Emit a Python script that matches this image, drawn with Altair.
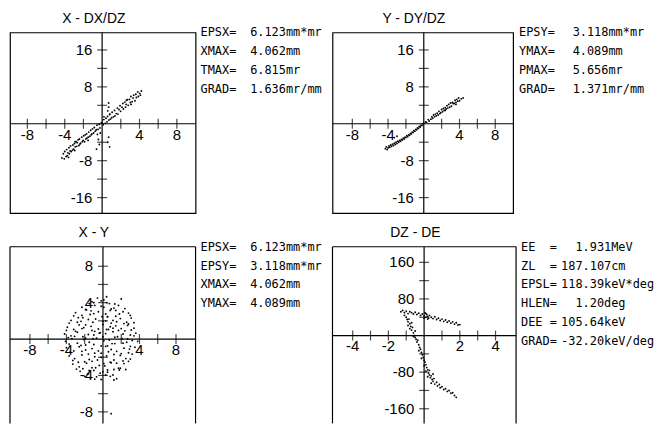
import altair as alt
import pandas as pd

# ---------------- data ----------------
# Panel 1: X (mm) vs DX/DZ (mr)
P1_X = [-4.3, -4.15, -4.05, -4.0, -3.85, -3.8, -3.72, -3.66, -3.55, -3.5, -3.42, -3.38, -3.3, -3.17,
        -3.12, -3.05, -2.96, -2.93, -2.88, -2.79, -2.71, -2.66, -2.57, -2.48, -2.43, -2.37, -2.31, -2.18,
        -2.12, -2.03, -1.97, -1.88, -1.81, -1.73, -1.66, -1.62, -1.49, -1.43, -1.31, -1.22, -1.17, -1.09,
        -1.02, -0.91, -0.84, -0.73, -0.62, -0.55, -0.44, -0.31, -0.24, -0.08,
        0.0, 0.12, 0.18, 0.33, 0.41, 0.52, 0.58, 0.71, 0.83, 0.88, 1.02, 1.07, 1.21, 1.33, 1.38, 1.52,
        1.63, 1.69, 1.81, 1.92, 1.98, 2.13, 2.22, 2.28, 2.43, 2.51, 2.58, 2.72, 2.79, 2.93, 3.02, 3.08,
        3.22, 3.31, 3.38, 3.52, 3.61, 3.67, 3.81, 3.88, 4.02, 4.2, 4.1, 2.6, 3.1,
        0.7, 0.7, 0.6, 0.8, -0.5, -0.4, -0.3, -0.6, 0.7, 0.6, 0.8, 0.2, -0.2, -1.5, -2.9, -3.6]
P1_Y = [-7.4, -6.5, -7.6, -6.0, -7.1, -5.6, -6.9, -6.3, -5.2, -6.5, -5.9, -4.8, -6.0, -5.7, -4.6, -5.5,
        -4.3, -5.8, -5.0, -3.9, -4.9, -4.1, -3.5, -4.7, -3.3, -4.4, -4.2, -2.9, -3.9, -3.6, -2.6, -3.9,
        -2.4, -3.3, -2.2, -3.1, -2.9, -1.8, -2.7, -1.4, -2.4, -2.2, -1.1, -2.0, -0.8, -1.6, -1.3, -0.3,
        -1.2, -0.1, -0.9, 0.2,
        0.3, -0.2, 0.9, 0.1, 1.2, 0.4, 1.6, 0.8, 2.1, 1.0, 1.3, 2.5, 1.5, 2.9, 1.7, 2.2, 3.4, 2.1, 3.1,
        3.9, 2.7, 3.6, 4.4, 3.2, 4.7, 3.6, 4.2, 5.2, 4.0, 5.3, 4.6, 5.9, 4.8, 5.6, 6.2, 5.0, 6.4, 5.7,
        6.9, 5.9, 6.6, 7.1, 6.2, 5.1, 4.2,
        4.5, 3.6, 2.8, 2.0, -2.3, -3.4, -4.5, -5.5, -2.9, -4.0, -5.0, 1.5, -2.0, -3.6, -3.9, -7.3]

# Panel 2: Y (mm) vs DY/DZ (mr)
P2_X = [-4.3, -4.2, -4.1, -4.0, -3.9, -3.8, -3.7, -3.6, -3.5, -3.4, -3.3, -3.2, -3.1, -3.0, -2.9, -2.8,
        -2.7, -2.6, -2.5, -2.4, -2.3, -2.2, -2.1, -2.0, -1.9, -1.8, -1.7, -1.6, -1.5, -1.4, -1.3, -1.2,
        -1.1, -1.0, -0.9, -0.8, -0.7, -0.6, -0.5, -0.4, -0.3, -0.2, -0.1, -3.0, -3.3,
        0.0, 0.2, 0.3, 0.5, 0.6, 0.8, 0.9, 1.0, 1.2, 1.3, 1.4, 1.5, 1.6, 1.7, 1.8, 1.9, 2.0, 2.1, 2.2,
        2.3, 2.4, 2.5, 2.6, 2.7, 2.8, 2.9, 3.0, 3.1, 3.2, 3.3, 3.4, 3.5, 3.6, 3.7, 3.8, 3.9, 4.0, 4.2,
        4.4, 3.6, 2.4, 1.1]
P2_Y = [-5.4, -5.0, -5.6, -5.2, -4.8, -5.1, -4.6, -4.9, -4.4, -4.7, -4.2, -4.5, -4.0, -4.3, -3.8, -4.0,
        -3.6, -3.8, -3.4, -3.5, -3.1, -3.3, -2.9, -3.0, -2.6, -2.8, -2.4, -2.5, -2.1, -2.2, -1.8, -1.9,
        -1.5, -1.6, -1.2, -1.3, -0.9, -1.0, -0.6, -0.7, -0.3, -0.4, 0.0, -2.7, -3.0,
        0.1, 0.4, 0.3, 0.9, 0.6, 1.0, 1.5, 1.2, 1.5, 2.1, 1.7, 2.3, 1.9, 2.7, 2.2, 2.4, 3.1, 2.6, 3.3,
        2.9, 3.5, 3.2, 3.9, 3.4, 4.2, 3.6, 4.5, 3.8, 4.6, 4.4, 4.4, 5.1, 4.6, 5.3, 4.9, 5.6, 5.0, 5.4,
        5.6, 4.2, 2.9, 1.9]

# Panel 3: X (mm) vs Y (mm)
P3_X = [-1.2, -0.6, 0.1, 0.7, -0.2, 2.0,
        -2.3, -1.5, -0.9, -0.2, 0.4, 1.2, 1.7, -1.3, 0.9,
        -3.0, -2.3, -1.8, -1.0, -0.5, 0.3, 0.8, 1.4, 2.2, 2.8, -2.7, -0.1,
        -3.5, -2.8, -2.2, -1.6, -0.8, 0.0, 0.5, 1.1, 1.9, 2.6, 3.1, -1.9, 0.9, 2.8,
        -3.9, -3.2, -2.6, -2.1, -1.3, -0.5, 0.0, 0.8, 1.4, 2.0, 2.7, 3.4, -3.0, 1.7, -0.3,
        -4.2, -3.5, -2.8, -2.2, -1.6, -1.0, -0.4, 0.3, 1.1, 1.6, 2.2, 3.0, 3.6, -1.2, 0.6,
        -4.1, -3.4, -2.8, -2.1, -1.5, -0.7, 0.1, 0.7, 1.3, 2.1, 2.6, 3.2, 3.8, -1.9, 0.5,
        -4.0, -3.2, -2.6, -1.9, -1.2, -0.5, 0.3, 0.9, 1.5, 2.3, 2.9, 3.5, -0.9, 1.2,
        -3.7, -3.1, -2.3, -1.5, -0.9, -0.2, 0.4, 1.2, 1.9, 2.5, 3.2, -2.7, 0.1,
        -3.3, -2.6, -1.8, -1.2, -0.4, 0.2, 0.9, 1.7, 2.3, 2.8, -1.5, 1.2,
        -2.5, -1.7, -1.0, -0.3, 0.5, 1.1, 1.8, -0.7, 0.8,
        -1.4, -0.2, 0.3, 1.5, 0.9,
        -1.0, 0.4, 1.3, -1.9, 0.1, 1.4, 2.4,
        -3.2, -1.4, 0.5, 1.8, 3.0,
        -3.7, -2.4, -1.1, 0.3, 1.5, 2.3, 3.4,
        -4.0, -2.3, -0.9, 0.4, 1.1, 2.4, 3.1,
        -3.8, -3.1, -1.9, -1.1, 0.0, 1.3, 2.7, 3.4,
        -3.7, -2.4, -1.0, -0.2, 1.0, 2.2, 3.0,
        -3.6, -2.3, -1.6, -0.2, 0.6, 2.0, 2.8,
        -3.3, -2.0, -1.2, -0.6, 0.8, 1.5, 2.2, 3.0,
        -2.9, -2.2, -0.8, 0.5, 1.9, 2.5,
        -2.0, -0.9, 0.0, 1.2, -1.6]
P3_Y = [4.1, 4.5, 4.3, 3.9, 4.2, 4.4,
        3.5, 3.9, 3.7, 3.6, 4.0, 3.4, 3.7, 3.1, 3.3,
        2.9, 2.6, 3.2, 2.8, 3.0, 2.75, 3.15, 2.5, 3.0, 2.85, 2.35, 2.45,
        2.05, 1.85, 2.35, 2.15, 2.2, 1.95, 2.45, 2.05, 2.25, 1.85, 2.3, 1.55, 1.75, 1.65,
        1.3, 1.05, 1.55, 1.25, 1.4, 1.1, 1.6, 1.35, 1.45, 1.15, 1.5, 1.2, 0.85, 0.95, 0.7,
        0.55, 0.35, 0.75, 0.25, 0.5, 0.45, 0.65, 0.6, 0.8, 0.25, 0.55, 0.45, 0.65, 0.95, 1.05,
        -0.25, 0.05, -0.45, -0.05, -0.35, 0.1, -0.2, -0.1, -0.5, 0.05, -0.35, -0.15, -0.25, -0.65, -0.75,
        -0.95, -1.3, -0.85, -1.2, -1.05, -1.3, -0.8, -1.15, -1.35, -1.0, -1.1, -0.9, -1.55, -1.7,
        -1.85, -2.15, -1.75, -2.25, -1.95, -2.0, -1.85, -2.3, -1.8, -2.15, -1.65, -2.55, -2.7,
        -2.75, -3.05, -2.65, -3.15, -2.9, -2.95, -2.6, -3.2, -2.7, -2.45, -3.45, -3.35,
        -3.55, -3.85, -3.45, -3.75, -3.65, -3.95, -3.4, -4.15, -4.1,
        -4.25, -4.45, -3.95, -4.35, -8.2,
        4.0, 4.65, 3.85, 3.25, 3.5, 3.15, 3.35,
        2.55, 2.7, 2.45, 2.75, 2.6,
        1.75, 1.95, 1.85, 2.0, 1.9, 1.7, 1.8,
        0.95, 1.15, 0.85, 1.05, 1.2, 0.9, 1.0,
        0.15, 0.3, 0.1, 0.05, 0.25, 0.2, 0.0, 0.35,
        -0.55, -0.7, -0.6, -0.75, -0.5, -0.45, -0.8,
        -1.45, -1.35, -1.65, -1.55, -1.4, -1.6, -1.5,
        -2.35, -2.5, -2.45, -2.3, -2.55, -2.65, -2.4, -2.2,
        -3.3, -3.25, -3.15, -3.4, -3.2, -3.35,
        -4.1, -4.4, -3.6, -4.5, -3.8]

# Panel 4: DZ (deg) vs DE (keV)
P4_X = [-1.3, -1.2, -1.1, -1.0, -0.9, -0.8, -0.7, -0.6, -0.5, -0.4, -0.3, -0.2, -0.1, 0.0, 0.05, 0.1,
        0.15, 0.2, 0.25, 0.3, 0.4, 0.5, 0.6, 0.7, 0.8, 0.9, 1.0, 1.1, 1.2, 1.3, 1.4, 1.5, 1.6, 1.7,
        1.8, 1.9, 2.0, 0.0, 0.1, 0.2,
        -1.1, -1.0, -0.95, -0.9, -0.85, -0.8, -0.75, -0.8, -0.7, -0.65, -0.6, -0.55, -0.5, -0.6, -0.45,
        -0.4, -0.35, -0.3, -0.25, -0.2, -0.3, -0.15, -0.1, -0.05, -0.15, 0.0, 0.05, 0.1, 0.0, 0.15,
        0.2, 0.1, 0.25, 0.3, 0.2, 0.35, 0.4, 0.45, 0.5, 0.4, 0.55, 0.6, 0.7, 0.75, 0.85, 0.9, 1.0,
        1.1, 1.2, 1.3, 1.4, 1.5, 1.6, 1.7, 1.8, 0.3, 0.5, -0.5, -0.9, -0.7]
P4_Y = [52, 55, 50, 53, 48, 52, 50, 47, 51, 46, 49, 44, 47, 43, 50, 40,
        46, 42, 38, 44, 40, 37, 41, 35, 38, 33, 36, 31, 34, 29, 32, 27, 30, 25,
        28, 23, 24, 38, 48, 36,
        44, 40, 35, 30, 36, 26, 20, 15, 12, 18, 6, 0, -4, -2, -8,
        -14, -10, -20, -26, -30, -33, -37, -42, -48, -50, -54, -58, -64, -66, -70,
        -75, -78, -82, -86, -90, -92, -88, -96, -100, -104, -94, -106, -102, -110, -107, -114, -112,
        -118, -116, -122, -120, -126, -125, -131, -135, -76, -84, 10, 22, 28]

# axis ticks and labels
P1_XTICKS = [-8, -6, -4, -2, 2, 4, 6, 8]
P1_XLABELS = [-8, -4, 4, 8]
P1_YTICKS = [-16, -12, -8, -4, 4, 8, 12, 16]
P1_YLABELS = [-16, -8, 8, 16]
P3_XTICKS = [-8, -6, -4, -2, 2, 4, 6, 8]
P3_XLABELS = [-8, -4, 4, 8]
P3_YTICKS = [-8, -6, -4, -2, 2, 4, 6, 8]
P3_YLABELS = [-8, -4, 4, 8]
P4_XTICKS = [-4, -3, -2, -1, 1, 2, 3, 4]
P4_XLABELS = [-4, -2, 2, 4]
P4_YTICKS = [-160, -120, -80, -40, 40, 80, 120, 160]
P4_YLABELS = [-160, -80, 80, 160]

TITLES = ["X - DX/DZ", "Y - DY/DZ", "X - Y", "DZ - DE"]

# info blocks
T1_NAMES = ["EPSX=", "XMAX=", "TMAX=", "GRAD="]
T1_VALUES = ["6.123mm*mr", "4.062mm", "6.815mr", "1.636mr/mm"]
T2_NAMES = ["EPSY=", "YMAX=", "PMAX=", "GRAD="]
T2_VALUES = ["3.118mm*mr", "4.089mm", "5.656mr", "1.371mr/mm"]
T3_NAMES = ["EPSX=", "EPSY=", "XMAX=", "YMAX="]
T3_VALUES = ["6.123mm*mr", "3.118mm*mr", "4.062mm", "4.089mm"]
T4_NAMES = ["EE", "ZL", "EPSL", "HLEN", "DEE", "GRAD"]
T4_INT = ["1", "187", "118", "1", "105", "-32"]
T4_FRAC = [".931MeV", ".107cm", ".39keV*deg", ".20deg", ".64keV", ".20keV/deg"]

FONT = "Liberation Sans"
MONO = "DejaVu Sans Mono"
LINE_PX = 19


def scatter_panel(px, py, xdom, ydom, xticks, xlabels, yticks, ylabels, title, w, h, open_bottom):
    xsc = alt.Scale(domain=xdom, nice=False, zero=False)
    ysc = alt.Scale(domain=ydom, nice=False, zero=False)

    def X(f):
        return alt.X(f, type="quantitative", scale=xsc, axis=None)

    def Y(f):
        return alt.Y(f, type="quantitative", scale=ysc, axis=None)

    layers = []
    zero = pd.DataFrame({"z": [0]})
    layers.append(alt.Chart(zero).mark_rule(color="black", strokeWidth=1.2).encode(y=Y("z")))
    layers.append(alt.Chart(zero).mark_rule(color="black", strokeWidth=1.2).encode(x=X("z")))
    layers.append(
        alt.Chart(pd.DataFrame({"v": xticks, "z": [0] * len(xticks)}))
        .mark_tick(orient="vertical", size=10, thickness=1.2, color="black")
        .encode(x=X("v"), y=Y("z"))
    )
    layers.append(
        alt.Chart(pd.DataFrame({"v": yticks, "z": [0] * len(yticks)}))
        .mark_tick(orient="horizontal", size=10, thickness=1.2, color="black")
        .encode(x=X("z"), y=Y("v"))
    )
    layers.append(
        alt.Chart(pd.DataFrame({"v": xlabels, "z": [0] * len(xlabels), "t": [str(v) for v in xlabels]}))
        .mark_text(font=FONT, fontSize=15, align="center", baseline="middle", dy=11, color="black")
        .encode(x=X("v"), y=Y("z"), text="t:N")
    )
    layers.append(
        alt.Chart(pd.DataFrame({"v": ylabels, "z": [0] * len(ylabels), "t": [str(v) for v in ylabels]}))
        .mark_text(font=FONT, fontSize=15, align="right", baseline="middle", dx=-10, color="black")
        .encode(x=X("z"), y=Y("v"), text="t:N")
    )
    layers.append(
        alt.Chart(pd.DataFrame({"x": px, "y": py}))
        .mark_circle(size=3.5, color="black", opacity=1)
        .encode(x=X("x"), y=Y("y"))
    )
    props = dict(
        width=w,
        height=h,
        title=alt.TitleParams(text=title, font=FONT, fontSize=14, fontWeight="normal",
                              offset=6, dx=-9, color="black"),
    )
    if open_bottom:
        layers.append(alt.Chart(pd.DataFrame({"e": [xdom[0], xdom[1]]}))
                      .mark_rule(color="black", strokeWidth=1.2).encode(x=X("e")))
        layers.append(alt.Chart(pd.DataFrame({"e": [ydom[1]]}))
                      .mark_rule(color="black", strokeWidth=1.2).encode(y=Y("e")))
        props["view"] = alt.ViewBackground(stroke="transparent")
    return alt.layer(*layers).properties(**props)


def info_panel(names, values, w, h, name_x, val_x):
    df = pd.DataFrame({"n": names, "v": values, "i": list(range(len(names)))})
    ysc = alt.Scale(domain=[0, h / LINE_PX], reverse=True, nice=False, zero=False)
    base = alt.Chart(df).encode(y=alt.Y("i:Q", scale=ysc, axis=None))
    a = base.mark_text(font=MONO, fontSize=12, align="left", baseline="middle", color="black").encode(
        x=alt.value(name_x), text="n:N")
    b = base.mark_text(font=MONO, fontSize=12, align="left", baseline="middle", color="black").encode(
        x=alt.value(val_x), text="v:N")
    return alt.layer(a, b).properties(width=w, height=h, view=alt.ViewBackground(stroke="transparent"))


def info_panel4(names, ints, fracs, w, h):
    df = pd.DataFrame({"n": names, "a": ints, "b": fracs, "e": ["="] * len(names),
                       "i": list(range(len(names)))})
    ysc = alt.Scale(domain=[0, h / LINE_PX], reverse=True, nice=False, zero=False)
    base = alt.Chart(df).encode(y=alt.Y("i:Q", scale=ysc, axis=None))
    kw = dict(font=MONO, fontSize=12, baseline="middle", color="black")
    l1 = base.mark_text(align="left", **kw).encode(x=alt.value(1), text="n:N")
    l2 = base.mark_text(align="left", **kw).encode(x=alt.value(30), text="e:N")
    l3 = base.mark_text(align="right", **kw).encode(x=alt.value(63), text="a:N")
    l4 = base.mark_text(align="left", **kw).encode(x=alt.value(63), text="b:N")
    return alt.layer(l1, l2, l3, l4).properties(width=w, height=h,
                                                 view=alt.ViewBackground(stroke="transparent"))


p1 = scatter_panel(P1_X, P1_Y, [-9.86, 10.0], [-19.35, 19.8], P1_XTICKS, P1_XLABELS,
                   P1_YTICKS, P1_YLABELS, TITLES[0], 187, 182, False)
p2 = scatter_panel(P2_X, P2_Y, [-10.22, 10.0], [-19.35, 19.8], P1_XTICKS, P1_XLABELS,
                   P1_YTICKS, P1_YLABELS, TITLES[1], 182, 182, False)
p3 = scatter_panel(P3_X, P3_Y, [-10.18, 10.14], [-9.27, 10.14], P3_XTICKS, P3_XLABELS,
                   P3_YTICKS, P3_YLABELS, TITLES[2], 187, 178, True)
p4 = scatter_panel(P4_X, P4_Y, [-5.13, 5.15], [-192, 194], P4_XTICKS, P4_XLABELS,
                   P4_YTICKS, P4_YLABELS, TITLES[3], 185, 178, True)

t1 = info_panel(T1_NAMES, T1_VALUES, 130, 182, 1, 51)
t2 = info_panel(T2_NAMES, T2_VALUES, 125, 182, -1, 53)
t3 = info_panel(T3_NAMES, T3_VALUES, 130, 178, 1, 51)
t4 = info_panel4(T4_NAMES, T4_INT, T4_FRAC, 125, 178)

chart = (
    alt.concat(p1, t1, p2, t2, p3, t3, p4, t4, columns=4,
               spacing={"row": 34, "column": 4}, bounds="flush")
    .properties(padding={"left": 0, "top": 1, "right": 0, "bottom": 0}, background="white")
    .configure_view(stroke="black", strokeWidth=1.2)
)

chart.save("out.html", embed_options={"renderer": "svg", "actions": False})
